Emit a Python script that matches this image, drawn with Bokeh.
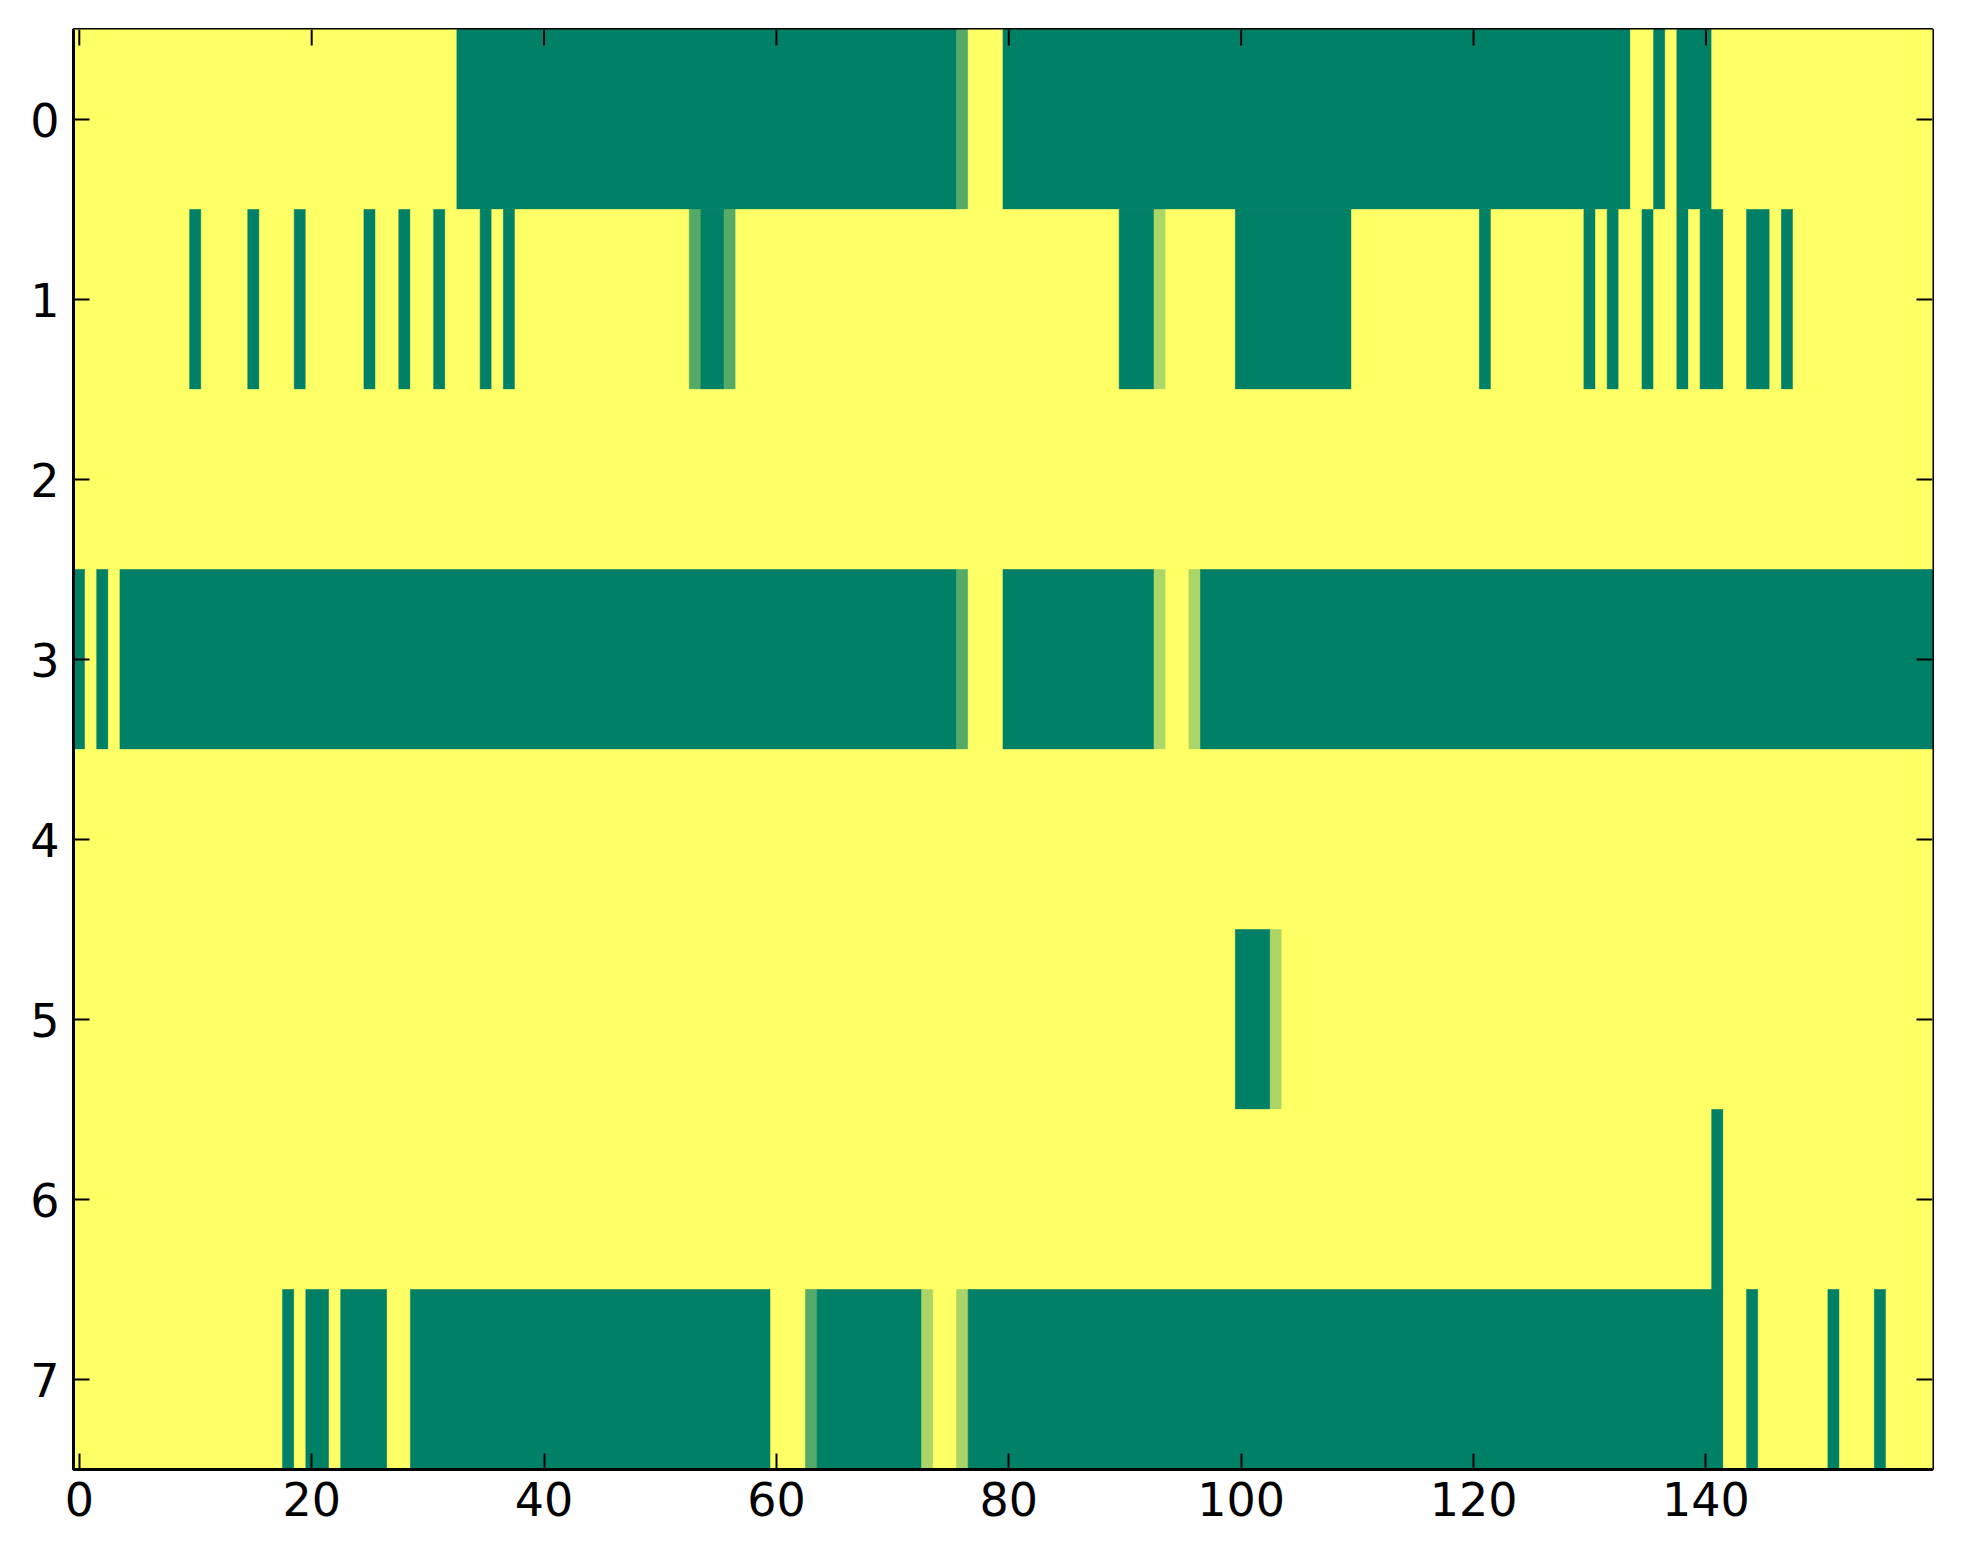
import numpy as np
from bokeh.plotting import figure
from bokeh.models import Range1d, FixedTicker, ColumnDataSource
from bokeh.transform import linear_cmap
from bokeh.embed import file_html
from bokeh.resources import INLINE

n_rows = 8
n_cols = 160

# Each row: runs of cells whose value is not 1.0 -> [first column, last column, value]
row_0 = [[33, 75, 0.0], [76, 76, 0.33], [80, 133, 0.0], [136, 136, 0.0], [138, 140, 0.0]]
row_1 = [[10, 10, 0.0], [15, 15, 0.0], [19, 19, 0.0], [25, 25, 0.0], [28, 28, 0.0],
         [31, 31, 0.0], [35, 35, 0.0], [37, 37, 0.0], [53, 53, 0.33], [54, 55, 0.0],
         [56, 56, 0.33], [90, 92, 0.0], [93, 93, 0.67], [100, 109, 0.0], [121, 121, 0.0],
         [130, 130, 0.0], [132, 132, 0.0], [135, 135, 0.0], [138, 138, 0.0],
         [140, 141, 0.0], [144, 145, 0.0], [147, 147, 0.0]]
row_2 = []
row_3 = [[0, 0, 0.0], [2, 2, 0.0], [4, 75, 0.0], [76, 76, 0.33], [80, 92, 0.0],
         [93, 93, 0.67], [96, 96, 0.67], [97, 159, 0.0]]
row_4 = []
row_5 = [[100, 102, 0.0], [103, 103, 0.67]]
row_6 = [[141, 141, 0.0]]
row_7 = [[18, 18, 0.0], [20, 21, 0.0], [23, 26, 0.0], [29, 59, 0.0], [63, 63, 0.33],
         [64, 72, 0.0], [73, 73, 0.67], [76, 76, 0.67], [77, 141, 0.0], [144, 144, 0.0],
         [151, 151, 0.0], [155, 155, 0.0]]

x_ticks = [0, 20, 40, 60, 80, 100, 120, 140]
y_ticks = [0, 1, 2, 3, 4, 5, 6, 7]

rows = [row_0, row_1, row_2, row_3, row_4, row_5, row_6, row_7]
grid = np.ones((n_rows, n_cols))
for r, runs in enumerate(rows):
    for a, b, v in runs:
        grid[r, a:b + 1] = v

left, right, top, bottom, val = [], [], [], [], []
for r in range(n_rows):
    c = 0
    while c < n_cols:
        e = c
        while e + 1 < n_cols and grid[r, e + 1] == grid[r, c]:
            e += 1
        left.append(c - 0.5)
        right.append(e + 0.5)
        top.append(r - 0.5)
        bottom.append(r + 0.5)
        val.append(float(grid[r, c]))
        c = e + 1

src = ColumnDataSource(dict(left=left, right=right, top=top, bottom=bottom, value=val))

# matplotlib "summer" colormap
summer = ["#%02x%02x%02x" % (int(round(255 * v)), int(round(255 * (0.5 + 0.5 * v))), 102)
          for v in np.linspace(0, 1, 256)]
cmap = linear_cmap("value", summer, 0, 1)

FW, FH = 1859, 1440
x0, x1 = -0.5, n_cols - 0.5
y0, y1 = n_rows - 0.5, -0.5
TICK = 16

p = figure(frame_width=FW, frame_height=FH,
           x_range=Range1d(x0, x1), y_range=Range1d(y0, y1),
           output_backend="svg", toolbar_location=None,
           min_border_left=73, min_border_top=29, min_border_right=20, min_border_bottom=88)
p.grid.visible = False
p.background_fill_color = "#FFFF66"
p.border_fill_color = "white"
p.outline_line_color = "black"
p.outline_line_width = 3

p.quad(left="left", right="right", top="top", bottom="bottom", source=src,
       fill_color=cmap, line_color=cmap, line_width=0.6)

# inward ticks on the top and right edges (mirror of the bottom/left ticks)
dy = TICK * (y0 - y1) / FH
dx = TICK * (x1 - x0) / FW
p.segment(x0=x_ticks, x1=x_ticks, y0=[y1] * len(x_ticks), y1=[y1 + dy] * len(x_ticks),
          line_color="black", line_width=2)
p.segment(x0=[x1] * len(y_ticks), x1=[x1 - dx] * len(y_ticks), y0=y_ticks, y1=y_ticks,
          line_color="black", line_width=2)

font = "DejaVu Sans"
size = "46px"

def style(ax, ticks, standoff):
    ax.ticker = FixedTicker(ticks=ticks)
    ax.axis_line_color = "black"
    ax.axis_line_width = 3
    ax.major_tick_in = TICK
    ax.major_tick_out = 0
    ax.major_tick_line_width = 2
    ax.major_tick_line_color = "black"
    ax.minor_tick_line_color = None
    ax.major_label_text_font = font
    ax.major_label_text_color = "black"
    ax.major_label_text_font_size = size
    ax.major_label_standoff = standoff

style(p.xaxis[0], x_ticks, 12)
style(p.yaxis[0], y_ticks, 14)

open("out.html", "w").write(file_html(p, INLINE))
